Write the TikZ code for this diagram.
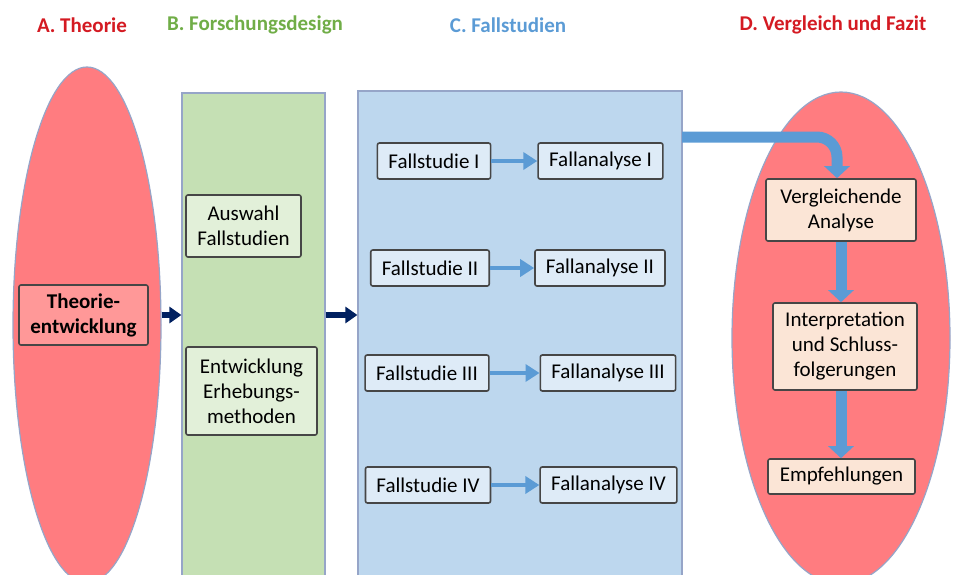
\documentclass[tikz,border=0pt]{standalone}
\usepackage{fontspec}
\setmainfont{Carlito}
\usepackage{xcolor}
\usepackage{tikz}
\usetikzlibrary{positioning, arrows.meta, shapes.geometric}
\definecolor{titlered}{RGB}{212,26,34}
\definecolor{titlegreen}{RGB}{112,173,71}
\definecolor{titleblue}{RGB}{91,155,213}
\definecolor{salmon}{RGB}{255,124,128}
\definecolor{rosebox}{RGB}{255,152,152}
\definecolor{sage}{RGB}{197,224,180}
\definecolor{sagebox}{RGB}{226,240,217}
\definecolor{skyfill}{RGB}{189,215,238}
\definecolor{skybox}{RGB}{222,235,247}
\definecolor{peach}{RGB}{251,229,214}
\definecolor{flowblue}{RGB}{91,155,213}
\definecolor{navy}{RGB}{0,32,96}
\definecolor{boxline}{RGB}{70,70,70}
\definecolor{shapeline}{RGB}{150,165,200}
\tikzset{
  phaseell/.style={ellipse, draw=shapeline, line width=0.6pt, fill=salmon, inner sep=0pt},
  phasecol/.style={draw=shapeline, line width=0.6pt, inner sep=0pt},
  phasetitle/.style={font=\bfseries\fontsize{10.5}{12.5}\selectfont},
  stepbox/.style={draw=boxline, line width=0.8pt, rounded corners=1pt, align=center,
    inner sep=0pt, font=\fontsize{10.5}{12.5}\selectfont},
  fallbox/.style={draw=boxline, line width=0.8pt, rounded corners=1pt, fill=skybox,
    inner xsep=5.5pt, inner ysep=0pt, minimum height=18pt, font=\fontsize{10.5}{12.5}\selectfont},
  navyarrow/.style={draw=navy, line width=3pt, -{Triangle[width=8pt,length=6pt]}},
  smallarrow/.style={draw=flowblue, line width=2pt, -{Triangle[width=8.5pt,length=7pt]}},
  bigarrow/.style={draw=flowblue, line width=5.5pt, -{Triangle[width=12.5pt,length=6pt]}}
}

\begin{document}
\begin{tikzpicture}[x=0.5pt, y=-0.5pt]
  \useasboundingbox (0,0) rectangle (954,574);
  % phase headings
  \node[phasetitle, text=titlered]   (tA) at (82,25)  {A. Theorie};
  \node[phasetitle, text=titlegreen] (tB) at (255,25) {B. Forschungsdesign};
  \node[phasetitle, text=titleblue]  (tC) at (508,25) {C. Fallstudien};
  \node[phasetitle, text=titlered]   (tD) at (833,25) {D. Vergleich und Fazit};
  % phase shapes
  \node[phaseell, minimum width=74pt, minimum height=258pt] (ellA) at (87,325) {};
  \node[phasecol, fill=sage, minimum width=71.5pt, minimum height=243.5pt] (colB) at (253.5,336.5) {};
  \node[phasecol, fill=skyfill, minimum width=162pt, minimum height=244.5pt] (colC) at (520,335.5) {};
  \node[phaseell, minimum width=109pt, minimum height=246pt] (ellD) at (841,338) {};
  % A
  \node[stepbox, fill=rosebox, font=\bfseries\fontsize{10.5}{12.5}\selectfont,
    minimum width=64.5pt, minimum height=30pt] (theorie) at (83.5,315) {Theorie-\\entwicklung};
  % B
  \node[stepbox, fill=sagebox, minimum width=57.5pt, minimum height=31pt] (auswahl) at (243.5,226) {Auswahl\\Fallstudien};
  \node[stepbox, fill=sagebox, minimum width=65.5pt, minimum height=44pt] (methoden) at (251.5,391) {Entwicklung\\Erhebungs-\\methoden};
  % C
  \node[fallbox] (fs1) at (434,161) {Fallstudie I};
  \node[fallbox] (fa1) at (600.5,161) {Fallanalyse I};
  \node[fallbox] (fs2) at (430,268) {Fallstudie II};
  \node[fallbox] (fa2) at (600,268) {Fallanalyse II};
  \node[fallbox] (fs3) at (427,373) {Fallstudie III};
  \node[fallbox] (fa3) at (608,373) {Fallanalyse III};
  \node[fallbox] (fs4) at (428,485) {Fallstudie IV};
  \node[fallbox] (fa4) at (608.5,485) {Fallanalyse IV};
  \foreach \i in {1,...,4}
    \draw[smallarrow] (fs\i) -- (fa\i);
  % D
  \node[stepbox, fill=peach, minimum width=75pt, minimum height=31pt] (vergl) at (841,210) {Vergleichende\\Analyse};
  \node[stepbox, fill=peach, minimum width=72pt, minimum height=43.5pt] (interp) at (845,346.5) {Interpretation\\und Schluss-\\folgerungen};
  \node[stepbox, fill=peach, minimum width=73.5pt, minimum height=17.5pt] (empf) at (841.5,476.5) {Empfehlungen};
  % connectors
  \draw[navyarrow] (ellA.east |- theorie) -- (colB.west |- theorie);
  \draw[navyarrow] (colB.east |- theorie) -- (colC.west |- theorie);
  \coordinate (cout) at (682,137);
  \draw[bigarrow, rounded corners=10pt] (cout) -| ([xshift=-2pt]vergl.north);
  \draw[bigarrow] (vergl.south) -- (vergl.south |- interp.north);
  \draw[bigarrow] (interp.south -| vergl.south) -- (vergl.south |- empf.north);
\end{tikzpicture}
\end{document}
